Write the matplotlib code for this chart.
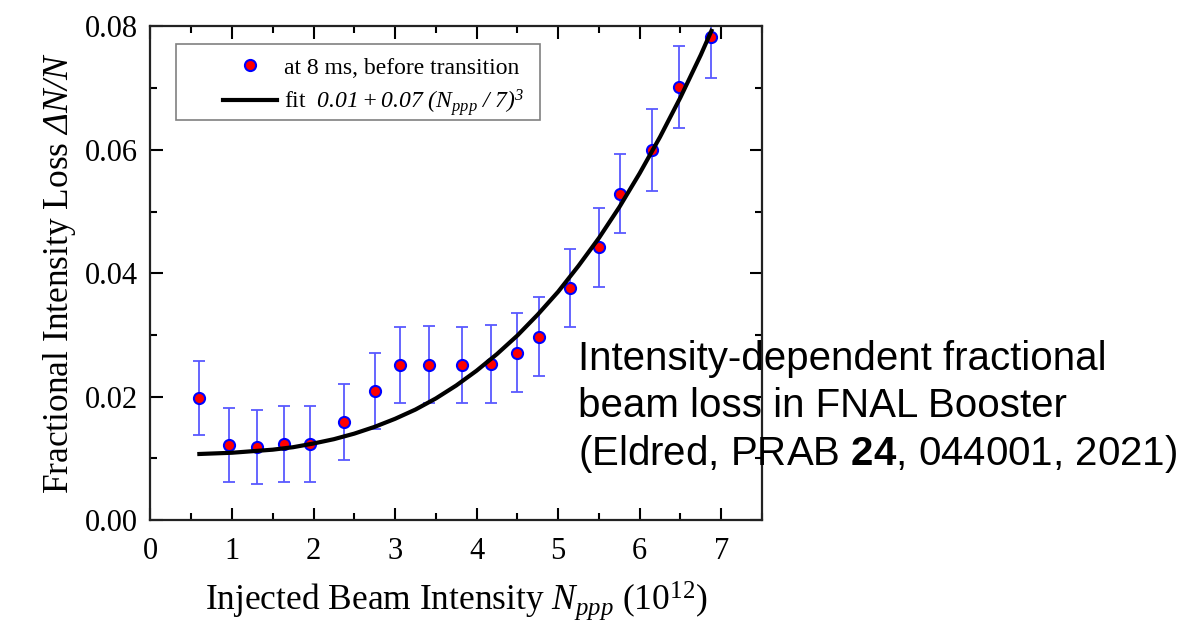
import numpy as np
import matplotlib
matplotlib.use("Agg")
import matplotlib.pyplot as plt
from matplotlib.ticker import MultipleLocator
from matplotlib.patches import Rectangle

plt.rcParams['font.family'] = ['Liberation Serif', 'DejaVu Serif']
plt.rcParams['mathtext.fontset'] = 'custom'
# math parts are italic in the original, upright bits use \mathregular
plt.rcParams['mathtext.rm'] = 'Liberation Serif:italic'
plt.rcParams['mathtext.it'] = 'Liberation Serif:italic'
plt.rcParams['mathtext.bf'] = 'Liberation Sans:bold'

# measured points (at 8 ms, before transition)
intensity = [0.60, 0.96, 1.31, 1.64, 1.96, 2.38, 2.76, 3.06, 3.42, 3.82,
             4.18, 4.49, 4.77, 5.14, 5.50, 5.76, 6.15, 6.48, 6.87]
loss = [0.0197, 0.0122, 0.0118, 0.0123, 0.0123, 0.0159, 0.0209, 0.0251, 0.0252, 0.0251,
        0.0253, 0.0271, 0.0297, 0.0376, 0.0442, 0.0529, 0.0600, 0.0702, 0.0783]
loss_err = [0.0060, 0.0060, 0.0060, 0.0061, 0.0061, 0.0061, 0.0062, 0.0062, 0.0062, 0.0062,
            0.0063, 0.0064, 0.0064, 0.0063, 0.0064, 0.0064, 0.0066, 0.0066, 0.0066]

# fit curve
fit_x = [0.60, 1.0, 1.5, 1.75, 2.0, 2.25, 2.5, 2.75, 3.0, 3.25, 3.5, 3.75, 4.0, 4.25,
         4.5, 4.75, 5.0, 5.25, 5.5, 5.75, 6.0, 6.25, 6.5, 6.75, 6.88]
fit_y = [0.0107, 0.0109, 0.0114, 0.0118, 0.0124, 0.0131, 0.0140, 0.0151, 0.0164, 0.0179,
         0.0197, 0.0218, 0.0242, 0.0269, 0.0299, 0.0333, 0.0370, 0.0412, 0.0457, 0.0507,
         0.0562, 0.0621, 0.0685, 0.0754, 0.0793]

fig = plt.figure(figsize=(11.93, 6.29), dpi=100)
ax = fig.add_axes([0.1261, 0.1733, 0.5126, 0.7846])

ax.errorbar(intensity, loss, yerr=loss_err, fmt='none', ecolor=(0.35, 0.35, 1.0),
            elinewidth=1.3, capsize=4, capthick=1.3, zorder=2)
ax.plot(intensity, loss, 'o', color='red', markeredgecolor='blue', markeredgewidth=1.5,
        markersize=8, zorder=3, label='at 8 ms, before transition')
ax.plot(fit_x, fit_y, color='black', linewidth=3, zorder=4,
        label=r'fit  $0.01 + 0.07\ (N_{ppp}\ /\ 7)^3$')

ax.set_xlim(0, 7.5)
ax.set_ylim(0, 0.08)
ax.xaxis.set_major_locator(MultipleLocator(1))
ax.xaxis.set_minor_locator(MultipleLocator(0.5))
ax.yaxis.set_major_locator(MultipleLocator(0.02))
ax.yaxis.set_minor_locator(MultipleLocator(0.01))
ax.yaxis.set_major_formatter(plt.FormatStrFormatter('%.2f'))
ax.tick_params(which='both', direction='in', top=True, right=True, labelsize=22, width=1.5)
ax.tick_params(which='major', length=9, pad=9)
ax.tick_params(axis='x', which='major', pad=12)
ax.tick_params(which='minor', length=5)
for s in ax.spines.values():
    s.set_linewidth(1.6)
    s.set_color('#222222')

ax.set_xlabel(r'Injected Beam Intensity $N_{ppp}$ $\mathregular{(10^{12})}$', fontsize=25.5, labelpad=10)
ax.set_ylabel(r'Fractional Intensity Loss $\Delta N/N$', fontsize=25.5, labelpad=5)

# legend box drawn separately, it is wider than the entries
ax.add_patch(Rectangle((0.0419, 0.8097), 0.5951, 0.1539, transform=ax.transAxes,
                       facecolor='white', edgecolor='gray', linewidth=1.2, zorder=5))
leg = ax.legend(loc='upper left', bbox_to_anchor=(0.1187, 0.938), fontsize=17,
                frameon=False, handlelength=2.3, handletextpad=0.3,
                borderpad=0, labelspacing=0.35, borderaxespad=0)
leg.set_zorder(6)

fig.text(0.4845, 0.2446,
         'Intensity-dependent fractional\nbeam loss in FNAL Booster\n'
         r'(Eldred, PRAB $\mathbf{24}$, 044001, 2021)',
         fontsize=29, family=['Liberation Sans', 'DejaVu Sans'], linespacing=1.27,
         ha='left', va='bottom')

plt.savefig('out.png', dpi=100)
